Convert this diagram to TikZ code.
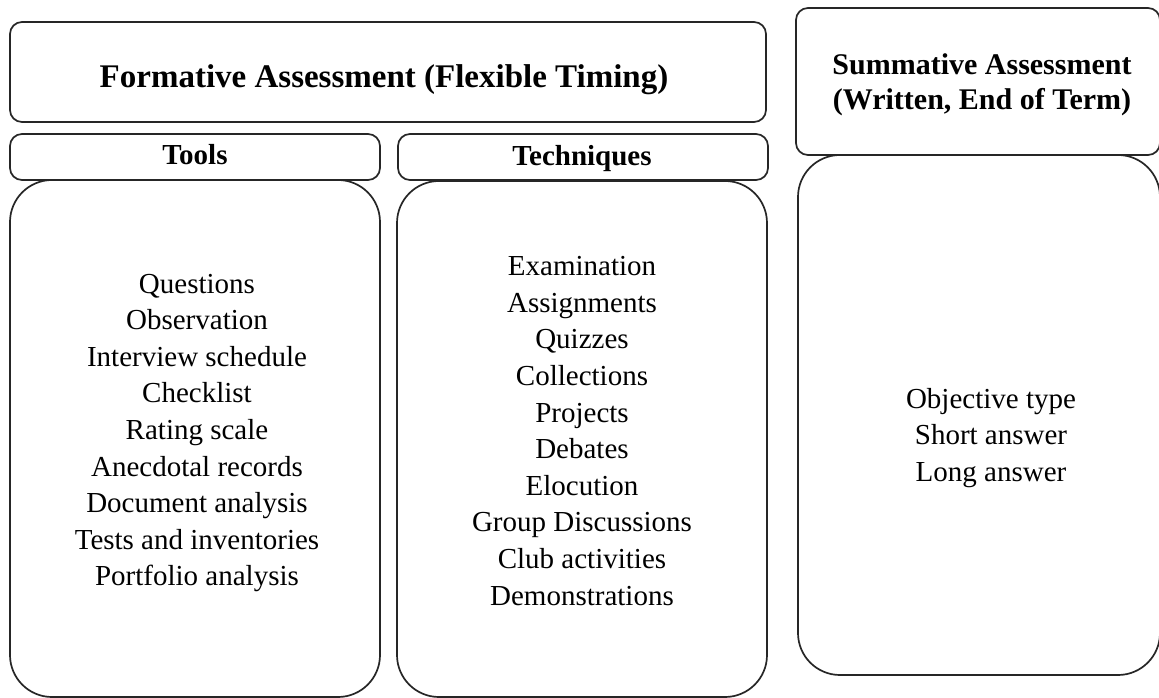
\documentclass[tikz,border=0pt]{standalone}
\usepackage{fontspec}
\setmainfont{Liberation Serif}
\begin{document}
\begin{tikzpicture}[x=1bp,y=-1bp,
  box/.style={draw=black!85, line width=1.7bp, rounded corners=12bp, inner sep=0pt},
  bigbox/.style={box, rounded corners=42bp},
  ttl/.style={font=\fontsize{29bp}{35bp}\selectfont\bfseries, align=center, inner sep=0pt},
  lst/.style={font=\fontsize{29bp}{36.6bp}\selectfont, align=center, inner sep=0pt}]
\useasboundingbox (0,0) rectangle (1159,698);
% boxes
\node[box, minimum width=756bp, minimum height=100bp] (form) at (388,72) {};
\node[box, minimum width=370bp, minimum height=46bp] (toolshdr) at (195,157) {};
\node[box, minimum width=370bp, minimum height=46bp] (techhdr) at (583,157) {};
\node[bigbox, minimum width=370bp, minimum height=517bp] (toolsbox) at (195,438.5) {};
\node[bigbox, minimum width=370bp, minimum height=516bp] (techbox) at (582,439) {};
\node[box, minimum width=364bp, minimum height=147bp] (sumhdr) at (978,81.5) {};
\node[bigbox, minimum width=362bp, minimum height=520bp] (sumbox) at (979,415) {};
% titles
\node[ttl, anchor=base, font=\fontsize{33bp}{38bp}\selectfont\bfseries] (formt) at (384,88) {Formative Assessment (Flexible Timing)};
\node[ttl, anchor=base] (toolst) at (195,165) {Tools};
\node[ttl, anchor=base] (techt) at (582,166) {Techniques};
\node[ttl, font=\fontsize{30bp}{35bp}\selectfont\bfseries] (sumt) at (982,85) {Summative Assessment\\(Written, End of Term)};
% lists
\node[lst] (toolsl) at (197,433) {Questions\\Observation\\Interview schedule\\Checklist\\Rating scale\\Anecdotal records\\Document analysis\\Tests and inventories\\Portfolio analysis};
\node[lst] (techl) at (582,431) {Examination\\Assignments\\Quizzes\\Collections\\Projects\\Debates\\Elocution\\Group Discussions\\Club activities\\Demonstrations};
\node[lst] (suml) at (991,438) {Objective type\\Short answer\\Long answer};
\end{tikzpicture}
\end{document}
